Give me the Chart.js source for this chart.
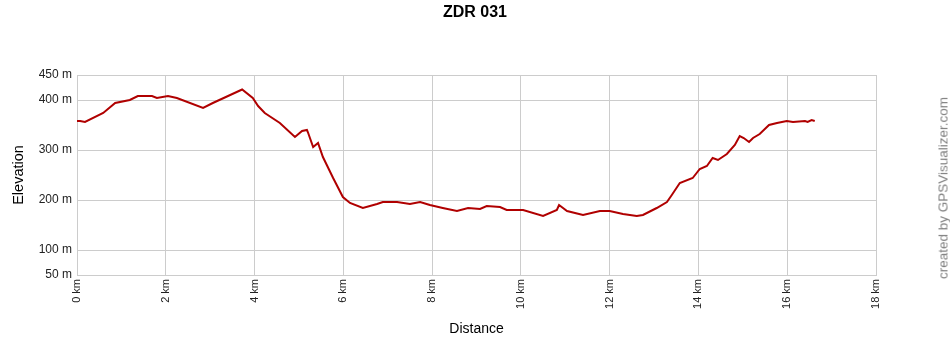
<!DOCTYPE html>
<html>
<head>
<meta charset="utf-8">
<script src="https://cdn.jsdelivr.net/npm/chart.js@4/dist/chart.umd.min.js"></script>
<style>
  html, body { margin: 0; padding: 0; background: #fff; }
  #wrap { position: relative; width: 950px; height: 350px; }
  #title { position: absolute; left: 0; width: 950px; top: 3px; text-align: center;
           font: bold 16px "Liberation Sans", Arial, sans-serif; color: #000; }
  #credit { position: absolute; left: 943px; top: 188px; transform: translate(-50%, -50%) rotate(-90deg);
            white-space: nowrap; font: 13.5px "Liberation Sans", Arial, sans-serif; color: #808080; }
</style>
</head>
<body>
<div id="wrap">
  <canvas id="c" width="950" height="350"></canvas>
  <div id="title">ZDR 031</div>
  <div id="credit">created by GPSVisualizer.com</div>
</div>
<script>
// Distance along the track (km)
const distanceKm = [0.00, 0.07, 0.18, 0.59, 0.86, 1.19, 1.37, 1.69, 1.80, 2.05, 2.25, 2.84, 3.06, 3.72, 3.96,
  4.08, 4.23, 4.57, 4.91, 5.07, 5.18, 5.20, 5.32, 5.43, 5.54, 5.77, 5.99, 6.15, 6.44, 6.76, 6.89, 7.21,
  7.50, 7.73, 7.95, 8.24, 8.56, 8.81, 9.08, 9.23, 9.53, 9.68, 10.05, 10.50, 10.81, 10.86, 11.04, 11.40,
  11.78, 12.00, 12.30, 12.61, 12.75, 13.06, 13.29, 13.40, 13.58, 13.87, 14.03, 14.19, 14.32, 14.44,
  14.64, 14.82, 14.93, 15.02, 15.14, 15.23, 15.38, 15.59, 15.77, 15.99, 16.13, 16.40, 16.46, 16.55, 16.62];
// Elevation (m)
const elevationM = [358, 358, 356, 374, 394, 400, 408, 408, 404, 408, 404, 384, 394, 421, 404,
  388, 374, 354, 326, 338, 340, 336, 306, 314, 286, 244, 206, 194, 184, 192, 196, 196,
  192, 196, 190, 184, 178, 184, 182, 188, 186, 180, 180, 168, 180, 190, 178, 170,
  178, 178, 172, 168, 170, 184, 196, 210, 234, 244, 262, 268, 284, 280,
  292, 310, 328, 324, 316, 324, 332, 350, 354, 358, 356, 358, 356, 360, 358];
// Axis ticks
const yTickValues = [50, 100, 200, 300, 400, 450];
const xTickStep = 2;
const xMin = 0, xMax = 18;
const yMin = 50, yMax = 450;

const points = distanceKm.map((d, i) => ({ x: d, y: elevationM[i] }));
const FONT = '"Liberation Sans", Arial, sans-serif';
const GRID = '#cccccc';

new Chart(document.getElementById('c'), {
  type: 'line',
  data: {
    datasets: [{
      data: points,
      borderColor: '#b00000',
      borderWidth: 2,
      pointRadius: 0,
      tension: 0,
      fill: false
    }]
  },
  options: {
    responsive: false,
    animation: false,
    layout: { padding: { top: 75, right: 74, bottom: 0, left: 0 } },
    plugins: { legend: { display: false }, title: { display: false }, tooltip: { enabled: false } },
    scales: {
      x: {
        type: 'linear',
        min: xMin, max: xMax,
        afterFit: s => { s.height = 75; },
        grid: { color: GRID, drawTicks: false },
        border: { color: GRID },
        ticks: {
          stepSize: xTickStep,
          minRotation: 90, maxRotation: 90,
          padding: 4,
          color: '#222',
          font: { family: FONT, size: 11 },
          callback: v => v + ' km'
        },
        title: { display: true, text: 'Distance', color: '#000',
                 font: { family: FONT, size: 14 }, padding: { top: 0, bottom: 12 } }
      },
      y: {
        type: 'linear',
        min: yMin, max: yMax,
        afterFit: s => { s.width = 77; },
        afterBuildTicks: s => { s.ticks = yTickValues.map(v => ({ value: v })); },
        grid: { color: GRID, drawTicks: false },
        border: { color: GRID },
        ticks: {
          padding: 5,
          color: '#222',
          font: { family: FONT, size: 12 },
          callback: v => v + ' m'
        },
        title: { display: true, text: 'Elevation', color: '#000',
                 font: { family: FONT, size: 14.5 }, padding: { top: 10, bottom: 0 } }
      }
    }
  }
});
</script>
</body>
</html>
